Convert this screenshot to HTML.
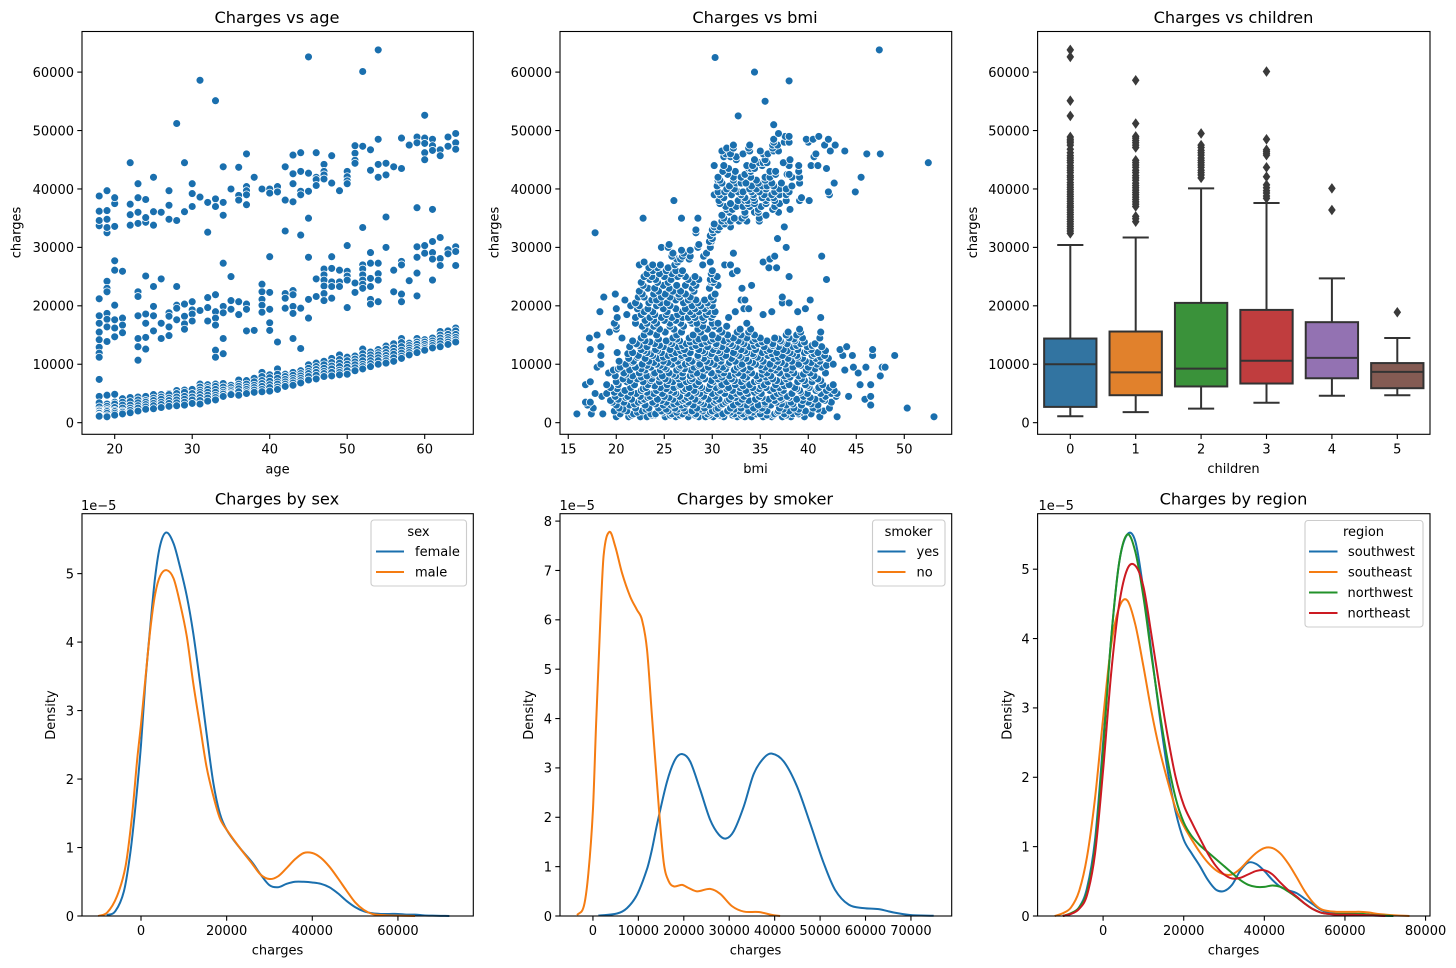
<!DOCTYPE html>
<html lang="en">
<head>
<meta charset="utf-8">
<title>Insurance charges charts</title>
<style>
html,body{margin:0;padding:0;background:#fff;width:1456px;height:968px;overflow:hidden}
svg{display:block;font-family:"DejaVu Sans","Liberation Sans",sans-serif;fill:#000}
text{font-size:13px}
.title{font-size:16.2px;text-anchor:middle}
.xl{text-anchor:middle}
.yl{text-anchor:middle}
</style>
</head>
<body>
<svg id="fig" width="1456" height="968" viewBox="0 0 1456 968" xmlns="http://www.w3.org/2000/svg">
<rect x="0" y="0" width="1456" height="968" fill="#fff"/>
<text class="title" x="277" y="23">Charges vs age</text>
<text class="title" x="755" y="23">Charges vs bmi</text>
<text class="title" x="1233.5" y="23">Charges vs children</text>
<text class="title" x="277" y="504.5">Charges by sex</text>
<text class="title" x="755" y="504.5">Charges by smoker</text>
<text class="title" x="1233.5" y="504.5">Charges by region</text>
<text class="xl" x="277.5" y="473.5">age</text>
<text class="xl" x="755.5" y="473">bmi</text>
<text class="xl" x="1233.5" y="473">children</text>
<text class="xl" x="277.5" y="954.5">charges</text>
<text class="xl" x="755.5" y="954.5">charges</text>
<text class="xl" x="1233.5" y="954.5">charges</text>
<text class="yl" transform="translate(20.5 232.5) rotate(-90)">charges</text>
<text class="yl" transform="translate(498.5 232.5) rotate(-90)">charges</text>
<text class="yl" transform="translate(977 232.5) rotate(-90)">charges</text>
<text class="yl" transform="translate(55 715) rotate(-90)">Density</text>
<text class="yl" transform="translate(533 715) rotate(-90)">Density</text>
<text class="yl" transform="translate(1011.5 715) rotate(-90)">Density</text>
<text x="81" y="510">1e−5</text>
<text x="559.5" y="510">1e−5</text>
<text x="1038.5" y="510">1e−5</text>
<g id="marks"></g>
<g id="frames"></g>
<g id="legends">
  <g>
    <rect x="371" y="520" width="95.5" height="66" rx="3" fill="#fff" fill-opacity=".8" stroke="#ccc" stroke-width="1.1"/>
    <text x="418.5" y="536" text-anchor="middle">sex</text>
    <line x1="376" x2="404" y1="551.5" y2="551.5" stroke="#1a6fae" stroke-width="2"/>
    <text x="415" y="556">female</text>
    <line x1="376" x2="404" y1="572" y2="572" stroke="#f57c12" stroke-width="2"/>
    <text x="415" y="576.5">male</text>
  </g>
  <g>
    <rect x="872.5" y="520" width="72.5" height="66" rx="3" fill="#fff" fill-opacity=".8" stroke="#ccc" stroke-width="1.1"/>
    <text x="908.5" y="536" text-anchor="middle">smoker</text>
    <line x1="877.5" x2="905.5" y1="551.5" y2="551.5" stroke="#1a6fae" stroke-width="2"/>
    <text x="916.5" y="556">yes</text>
    <line x1="877.5" x2="905.5" y1="572" y2="572" stroke="#f57c12" stroke-width="2"/>
    <text x="916.5" y="576.5">no</text>
  </g>
  <g>
    <rect x="1305" y="520.5" width="118" height="106.5" rx="3" fill="#fff" fill-opacity=".8" stroke="#ccc" stroke-width="1.1"/>
    <text x="1363.5" y="536" text-anchor="middle">region</text>
    <line x1="1309" x2="1337.5" y1="551.5" y2="551.5" stroke="#1a6fae" stroke-width="2"/>
    <text x="1348" y="556">southwest</text>
    <line x1="1309" x2="1337.5" y1="572" y2="572" stroke="#f57c12" stroke-width="2"/>
    <text x="1348" y="576.5">southeast</text>
    <line x1="1309" x2="1337.5" y1="592.5" y2="592.5" stroke="#22922a" stroke-width="2"/>
    <text x="1347.5" y="597">northwest</text>
    <line x1="1309" x2="1337.5" y1="613" y2="613" stroke="#cc1a22" stroke-width="2"/>
    <text x="1347.5" y="617.5">northeast</text>
  </g>
</g>
</svg>
<script>
/* ---------- tick values ---------- */
const chargeTicks = [0,10,20,30,40,50,60];
const ageTicks = [20,30,40,50,60];
const bmiTicks = [15,20,25,30,35,40,45,50];
const childTicks = [0,1,2,3,4,5];
const sexXTicks = [0,20,40,60];
const smokerXTicks = [0,10,20,30,40,50,60,70];
const regionXTicks = [0,20,40,60,80];
const sexDensityTicks = [0,1,2,3,4,5];
const smokerDensityTicks = [0,1,2,3,4,5,6,7,8];
const regionDensityTicks = [0,1,2,3,4,5];

/* ---------- age scatter: charges (thousands) listed per age ---------- */
const ageGroups = [18,19,20,21,22,23,24,25,26,27,28,29,30,31,32,33,34,35,36,37,38,39,40,41,42,43,44,45,46,47,48,49,50,51,52,53,54,55,56,57,58,59,60,61,62,63,64];
const chargesByAge = [
[33.7,34.6,36.2,38.8,21.2,18.3,17,15.5,14.2,12.9,11.9,11.2,7.4,4.5,3.4,2.7,2.2,2.0,1.7,1.6,1.3,1.2,1.1],
[32.5,33.4,34.8,36.3,39.7,24.2,23,22.4,18.7,17.7,16.4,13.9,4.7,3.2,2.8,2.4,2.1,1.9,1.6,1.2,1.0],
[33.6,37.5,38.5,27.7,26.1,20.1,17.6,16.2,14.7,4.85,3.5,3.2,2.6,2.1,1.9,1.6,1.3],
[25.9,17.9,16.7,15.4,4.1,3.5,3,2.5,2,1.8,1.5],
[33.8,35.6,37.4,44.5,4.3,3.6,3,2.5,2.1,1.7],
[34.1,36,38.5,40.9,22.4,21.6,18.3,14.4,13,10.7,4.4,3.9,3.4,2.9,2.5,2.0],
[34.3,35.1,38.2,25.1,18.6,17,14.6,12.6,4.5,3.8,3.5,3.1,2.7,2.3],
[33.8,36.1,42,23.3,19.9,18.3,15.7,4.8,4.2,3.8,3.3,2.9,2.4],
[36,24.6,17,14.4,4.8,4.4,4,3.5,3.1,2.6],
[34.8,37.2,39.7,18.8,18.2,16.4,14.9,5.0,4.8,4.2,3.8,3.3,2.8],
[34.6,51.2,23.3,20.1,19.6,17.6,5.5,5,4.4,3.9,3.4,2.9],
[36.1,44.5,20.3,18.2,16.9,16,5.6,5.2,4.5,4,3.5,3],
[37,39.2,40.9,20.7,19.3,18.6,17.4,5.8,5.7,5,4.4,3.9,3.3],
[58.6,38.6,19.2,6.6,6.1,5.6,5.2,4.8,4.3,3.8,3.2],
[37.7,32.6,21.4,19.7,17.4,6.5,6,5.7,5.2,4.7,4.2,3.7],
[55.1,38.3,37,21.9,19,17.9,16.7,12.4,11.2,6.6,6.2,5.7,5.2,4.7,4.3,3.9],
[43.8,37.7,35.5,27.3,19.9,18.8,14.4,11.8,6.7,6.1,5.6,5.2,4.9,4.5],
[40,25,20.9,19.4,6.4,6,5.6,5.3,5,4.8],
[43.7,38.9,38.1,20.7,18.5,7.3,6.6,6.2,5.8,5.3,4.7],
[46,40.4,39.7,39,37.3,20.3,19.4,15.7,7.2,6.6,6.1,5.7,5.3,5],
[42,15.8,7.6,7,6.4,6,5.6,5.2],
[40,23.7,22.4,21.1,20.1,18.9,8.6,7.9,7.2,6.7,6.2,5.7,5.3],
[40,39.3,28.4,22.3,19.4,17.1,15.8,8.2,7.7,7.1,6.5,6,5.4],
[40.4,39.5,13.8,9.2,8.3,7.6,7,6.6,6.1,5.7],
[43.8,38.1,32.8,22.1,21.3,19.6,8.3,7.9,7.4,7,6.6,6.2],
[45.8,42.6,40.9,37.8,22.6,21.9,19.9,18.7,14.4,8.6,8.1,7.6,7.2,6.8,6.4],
[46.2,43,39.6,39,32.1,19.6,12.7,8.9,8.4,8,7.6,7.2,6.8],
[62.6,42.7,39.6,35,28.3,21.1,17.9,9.9,9.3,8.8,8.4,7.9,7.3],
[46.2,42,41.6,40.6,24.6,21.6,10.2,9.6,9.1,8.6,8.1,7.5],
[44.2,43,42.4,41.7,26.3,25.3,24.4,23.4,22.1,20.9,10.5,9.9,9.3,8.8,8.4,7.9],
[45.7,41,28.4,26.4,24.1,23.3,21.3,11,10.3,9.7,9.2,8.6,8],
[39.7,26.1,24.1,23.3,11.6,10.8,10.2,9.6,9,8.6,8.2],
[43,42.1,41.4,40.9,30.3,25.9,25.1,24.4,19.7,11.2,10.6,10,9.5,8.9,8.3],
[47.4,46.1,44.9,44.4,23.9,22.3,11.4,10.9,10.4,9.9,9.4,8.9],
[60.1,47.3,33.4,27,26.3,25.3,24.4,23.7,23,12.6,11.8,11.2,10.6,10,9.6,9.2],
[46.7,43.2,29.1,27.3,24.7,23.3,21.1,20.3,12.1,11.6,11.1,10.6,10.1,9.6],
[63.8,48.5,44.2,42,27.3,25.5,24.4,20.7,12.5,12,11.6,11.1,10.6,10],
[44.4,42.4,35.2,30,13.1,12.6,12,11.5,11,10.6,10.2],
[43.8,26.1,22.4,13.5,12.8,12.2,11.7,11.1,10.5],
[48.7,43.5,27.6,27,22,20.7,14.4,13.7,13,12.4,11.9,11.4,11],
[47.5,24.3,13.6,13.2,12.8,12.4,12,11.6],
[48.9,47.9,36.8,30.1,28.3,25.6,21.7,14.4,13.8,13.4,12.9,12.5,12],
[52.6,48.7,47.8,46.2,45,30.3,29,14.2,13.8,13.4,13,12.7,12.4],
[48.5,47.4,46.6,36.5,31,29.1,28,24.4,14.5,14,13.6,13.2,12.8],
[46.7,45.7,31.7,28.1,26.9,15.6,15,14.5,14,13.5,13],
[48.9,47.3,29.6,28.9,15.7,15.1,14.6,14.2,13.8,13.4],
[49.5,47.9,46.8,30.1,29.3,26.9,16.2,15.7,15.1,14.6,14.2,13.8]
];

/* ---------- bmi scatter: [charges (thousands), bmi values] ---------- */
const bmiRows = [
[1,[20,21.3,22.5,23.2,25.1,26.2,27.5,28.6,29.3,30.1,31.2,32.6,33.4,34.1,35.3,36.2,37.3,38.2,39.6,41.2,43,53.1]],
[1.3,[21.6,24,25.6,28.2,30.8,33,35.7,37.7,32.1,26.6,23.7,29.7,36.4]],
[1.5,[15.9,17.4,18.6,20.4,21.8,23.6,24.1,25.8,26.9,28.3,29.5,30.5,31.1,32.3,33.2,34.6,35,36.5,37.5,38.4,39,40.3]],
[1.8,[22.2,24.9,27.6,29.8,31.9,34.2,36.8,39.3,26.3,33.7,38.9]],
[2,[19.8,21.1,22.7,24.7,25.4,27.2,27.9,29,30,31.6,32.8,33.8,35.7,36.9,38,39.7,41.6]],
[2.3,[20.7,23.1,26.4,28.8,30.4,32.3,35,37.4,39,41,25.2,34.5]],
[2.5,[17.6,20.3,22,23.4,24.4,26.1,27,28.4,29.2,30.6,31.9,33,34.3,35.2,37,38.5,40.5,42.2,50.3]],
[3,[17,20,21.4,23,24.9,25.7,26.8,28,29.7,30.9,32.2,33.6,34.8,36.1,37.7,39.3,41,46.5]],
[3.2,[21.9,24.1,27.3,29.1,31.1,32.9,35.5,37.2,40.3,26,38.4]],
[3.5,[16.8,17.3,19.6,20.8,22.3,23.8,25.2,26.4,27.5,28.8,30.2,31.4,32.7,34,35.5,36.7,38.2,40,42.4]],
[3.8,[22.6,24.7,26.9,28.6,30.4,33.8,36.5,39.4,41.7,19.4,31.6]],
[4,[20.2,21.6,22.9,24.3,25.9,27.1,28.2,29.6,30.7,31.8,33.1,34.5,35.9,37.2,38.8,40.7,41.5,45.9]],
[4.3,[21,23.3,25.5,27.4,29,32.4,35.2,38,40.2,37.1]],
[4.5,[18.5,19.9,21.2,22.5,23.5,25,26.6,27.8,29.1,30.3,32,33.3,34.9,36.4,37.8,39.5,41.8,42.9,44.2,46.5]],
[5,[17.8,19,20.5,22.1,23.9,24.8,26.2,27.4,28.7,30,31.3,32.5,33.7,35.1,36.8,38.3,39.9,41.3,42.4,43]],
[5.2,[21.5,23.2,26,28.3,30.6,32.9,34.4,37.2,39.2,19.8]],
[5.5,[20.9,22.6,24.2,25.6,27,28.1,29.4,30.8,32.1,33.5,34.7,36,37.4,39.1,40.8,41.9,42.7]],
[5.8,[22.8,25.2,27.2,29.6,31.5,34.9,36.4,38.8,41,20.1]],
[6,[19.4,21.5,23.1,24.6,26,27.6,28.9,30.4,31.7,32.9,34.2,35.6,37,38.6,40.1,41.1,42.2]],
[6.3,[24,26.6,28.7,30.9,33.2,35.1,37.5,39.9]],
[6.5,[16.8,19,20.2,21.9,23.3,25.3,26.7,28.3,29.8,31,32.4,33.9,35.4,36.6,38,39.7,41.5,42.6,45.4,46.5]],
[7,[17.3,20,21.1,22.8,24.5,25.9,27.3,28.6,30.1,31.5,33,34.4,35.8,37.2,38.9,40.4]],
[7.2,[21.4,23.6,25.4,27.7,29.9,32.3,34.8,36.7,39.6,41.3]],
[7.5,[20.7,22.2,23.7,25.1,26.5,27.9,29.2,30.6,32,33.4,34.9,36.3,37.7,39.3,41]],
[7.8,[22.6,24.5,26.9,28.8,31,33.6,35.6,38.1,40.4]],
[8,[19.9,21.7,23.2,24.8,26.2,27.7,29,30.3,31.8,33.2,34.6,36.1,37.5,39,40.6,47.5]],
[8.3,[21,23.9,25.9,28,30.9,32.4,35.2,37.9,39.5]],
[8.5,[19.2,20.8,22.4,24,25.5,26.9,28.4,29.9,31.2,32.7,34.1,35.7,37,38.5,40.2,41.8,45.2]],
[9,[19.7,21.4,23,24.6,26.3,27.8,29.3,30.7,32.3,33.7,35.2,36.6,38.2,39.8,43.8]],
[9.2,[20.2,22.6,25.2,27.1,29,31.4,33.2,36.1,37.7,40.7]],
[9.5,[18,20.4,22,23.6,25,26.6,28.1,29.6,31.1,32.6,34,35.5,36.9,38.4,40,41.4,44.7,46,47.7,48]],
[9.8,[23.2,24.6,26.7,28.6,30.5,32.9,35,36.4,39.2,41.9]],
[10,[18.4,21,22.7,24.2,25.8,27.2,28.7,30.2,31.7,33.1,34.5,36,37.6,39,40.9,42.6]],
[10.3,[21.7,23.9,25.4,27.6,29.8,31.8,34.2,37.2,40.3]],
[10.5,[20.3,21.8,23.4,24.9,26.4,27.9,29.4,30.9,32.4,33.8,35.3,36.8,38.3,39.7,41.2]],
[11,[21.3,23,24.4,26,27.5,29.1,30.5,32,33.5,35,36.4,37.9,39.4,40.8,42.1]],
[11.2,[22.2,24.9,26.8,28.5,31.1,33,34.7,36.9,38.9,41.3]],
[11.5,[18.4,22.3,23.8,25.4,26.8,28.5,29.8,31.4,32.8,34.3,35.8,37.3,38.8,40.4,41.7,43.6,44.6,46.7,49]],
[11.8,[21.2,23.6,25.8,27.2,29.9,32.4,34.2,36.2,38.4,40.6]],
[12,[20.1,21.7,23.2,24.7,26.2,27.7,29.2,30.8,32.2,33.6,35.2,36.7,38.1,39.6,41]],
[12.3,[22.9,24.3,26.7,29,30.6,33.4,35.7,37.8,39.9,41.8]],
[12.5,[17.3,22.6,24.1,25.6,27.1,28.6,30.1,31.5,33,34.5,36,37.4,38.9,40.3,43.3,46.7]],
[13,[18.4,21.4,23.2,24.9,26.4,27.9,29.5,31,32.5,33.9,35.4,36.9,38.4,39.9,41.4,44]],
[13.2,[22.4,24.5,26.9,28.3,30.4,32.1,34.4,36.3,38.8,40.4]],
[13.5,[22.1,24,25.8,27.3,28.9,30.4,31.9,33.3,34.8,36.3,37.8,39.2,40.7]],
[13.8,[23.5,25.5,27.7,29.4,31.5,33,35.2,37.2,39.6]],
[14,[21.7,23,25.2,26.6,28.3,29.8,31.2,32.7,34.2,35.7,37.1,38.6]],
[14.3,[24.4,26.3,28.6,30.1,31.8,34.5,36.9,38.5]],
[14.5,[17.2,20.6,22.6,25.9,27.6,29.2,30.6,32.2,33.6,35,36.5,38,39.4,41.2]],
[15,[18,22.9,24.2,26.3,28,30,31.6,33,34.4,37.7,38.8]],
[15.5,[19.3,23.5,25.1,26.8,28.8,31,32.6,33.8,37.9,39.2,41.3]],
[16,[20,23,24.5,26,28.5,29.5,30.7,32.9,34,39.1]],
[16.5,[20,22.7,23.9,25.6,27,29,30.2,31.5]],
[17,[19.8,22,23.2,24.2,25.6,26.7,27.9,28.4,30,30.6,33.6]],
[17.5,[23,23.9,25,26.2,27.7,29.1]],
[18,[20.1,22,23.5,24.7,25.8,26.9,27.5,28.2,29,29.9,31.7,41.3]],
[18.5,[21.1,22.6,24,25.2,26.4,28,29.4,30.1,35.3]],
[19,[18.3,22.9,23.8,25.3,26.9,27.7,28.6,29.6,30.3,32.4,38.9,36.2]],
[19.5,[20,22.2,23.3,24.9,26.2,27.2,28.2,29.2,33.3,33.8,39.7]],
[20,[21.5,22.4,24.2,25.6,27.9,28.8,29.7,30]],
[20.5,[22,23.4,24.6,25.3,27,28.5,29.5,37.3,38]],
[21,[20.9,23.7,24.2,26.2,27.5,28.3,29.2,30.1,33,33.4,40.2]],
[21.5,[18.7,22.3,22.9,24.7,25.6,26.6,27.7,29.9,37.3]],
[22,[22.7,23.9,25.1,26.5,27.2,30.3,19.9]],
[22.5,[22.4,24.4,25.9,26.7,28.1]],
[23,[23.3,24,25.5,27.9,29.7,33.1]],
[23.5,[22.8,24.9,26.3,27.2,28.3,30.6,34.1]],
[24,[22.6,24.3,25.4,28,29.9,30.1]],
[24.5,[23.5,24.1,25.7,27.5,28.6,29.8,30.2,41.9]],
[25,[22.9,23.7,25,26.4,27.2,28.2,30.5,38]],
[25.5,[23.2,24.5,25.8,26.7,29.9,32.1]],
[26,[23.8,25.2,26.2,26.9,30,32.6]],
[26.5,[23.4,24.3,25.4,35.9,36.7]],
[27,[22.4,23.8,24.6,26.1,29,31.3,31.9]],
[27.5,[22.9,26.4,29.8,35.3]],
[28,[26.3,26.7,27.6,36]],
[28.5,[25.8,26.9,27.7,29.1,36.5,41.4]],
[29,[25.9,27,29.4,32.2]],
[29.5,[26.8,27.7]],
[30,[24.7,25.4,28.5,29.8,37.7]],
[30.5,[25.5,28.6]],
[31,[29.9,29.7]],
[31.5,[30,36.8]],
[32,[29.8]],
[32.5,[17.8,30.1,28.3]],
[33,[28.3,30,30.6]],
[33.5,[30.2,30.8,31.9,37.5]],
[34,[30.2,31.3]],
[34.5,[31,31.6,32.8,33.6,34.9,31.9]],
[35,[22.8,26.8,28.5,31.2,32.3,33.1,34.9]],
[35.5,[31,33.4,35.6]],
[36,[31.8,33.4,34.4,34.8,36.9]],
[36.5,[31.5,32.1,34.8,36.3,38.1]],
[37,[31.4,32.5,33.2,33.9,35.1,36.5]],
[37.5,[30.8,31.9,33.7,34.4,35.6,37]],
[38,[26,30.7,32.7,33.4,33.7,34.4,35.6,36.5,37.7,39.1,40.1]],
[38.5,[31.2,33.4,34.3,35.2,35.9,36.4,39.3]],
[39,[30.2,30.8,32,33,34.3,35.4,36.2,37,37.7,42.2]],
[39.5,[30.6,31.3,32.7,33.2,34.1,34.9,36.5,38,42.1,44.9]],
[40,[31.5,32.3,33.9,34.6,35.6,37,37.7]],
[40.5,[30.5,31.8,34.1,35.2,35.7,36.4,38.3]],
[41,[31,32.5,33,33.5,34.8,36.2,37.2,39.1,42.7]],
[41.5,[30.6,30.8,32.2,34.6,35.5]],
[42,[30.6,32.2,33,34,35.5,36,38.3,39.1,45.5]],
[42.5,[31.6,33.4,36.6,37.8,38]],
[43,[31.1,32.4,34,36,36.6,39]],
[43.5,[31.7,33.8,34,34.4,41.9]],
[44,[30.2,31.2,33.6,34.2,35.2,38,39,40.3,41]],
[44.5,[34.9,35.3,35.7,37.4,52.5]],
[45,[32.5,34.4,35.5,38.1]],
[45.5,[31.2,31.9,32.5,40.6]],
[46,[31.4,31.9,33.2,35.3,35.8,40.8,47.5,46.1]],
[46.5,[31,33.9,35,36.4,36.9,42.3,43.8]],
[47,[31.5,32.2,33.8,36.3]],
[47.5,[32.2,33.9,36.3,36.8,41.7,42.8]],
[48,[36.4,37.5,38,40]],
[48.5,[36.4,39.8,40.5,42.1]],
[49,[37.6,38,41.1]],
[49.5,[36.9]],
[51,[36.4]],
[52.5,[32.7]],
[55,[35.5]],
[58.5,[38]],
[60,[34.4]],
[62.5,[30.3]],
[63.8,[47.4]]
];

/* ---------- box plot: charges (thousands) per number of children ---------- */
const boxLow = [1.1,1.8,2.4,3.4,4.6,4.7];
const boxQ1 = [2.7,4.7,6.2,6.7,7.6,5.9];
const boxMedian = [10,8.6,9.25,10.6,11.1,8.7];
const boxQ3 = [14.4,15.6,20.5,19.3,17.2,10.2];
const boxHigh = [30.4,31.7,40.1,37.6,24.7,14.5];
const boxColors = ["#3274a1","#e1812c","#3a923a","#c03d3e","#9372b2","#845b53"];
const boxFliers = [
[63.8,62.6,55.1,52.5,48.9,48.5,48.2,47.9,47.5,46.8,46.2,45.7,45.3,44.9,44.5,44,43.6,43.2,42.8,42.3,42,41.6,41.1,40.7,40.3,39.9,39.5,39.1,38.7,38.3,37.9,37.5,37.1,36.8,36.4,36,35.6,35.2,34.8,34.4,34,33.6,33.2,32.8,32.4],
[58.6,51.2,49,48.7,48.3,47.9,47.5,47.1,44.9,44.5,44.1,43.7,43.2,42.8,42.3,41.9,41.5,41,40.6,40.2,39.8,39.4,39,38.6,38.2,37.8,37.4,37,35.3,34.9,34.4],
[49.5,47.5,47.1,46.6,46.2,45.8,45.3,44.9,44.5,44.1,43.7,43.2,42.8,42.4,41.9],
[60.1,48.5,46.7,46.4,46.1,45.8,43.7,42.1,40.7,40.2,39.7,39.3,38.8,38.4],
[40.1,36.4],
[18.9]
];

/* ---------- density curves: charges (thousands) and density (1e-5) ---------- */
const femaleX = [-8,-6,-4,-2.5,-1.3,0,1,2.2,3.3,4.5,5.9,7.6,9.1,10.7,12.2,13.8,15.3,16.9,18.4,20,23,26,28,30,32,34,36,38,40,42,44,46,48,50,52,54,56,58,60,62,64,66,68,70,72];
const femaleY = [0.01,0.07,0.36,0.92,1.6,2.5,3.4,4.25,4.95,5.42,5.6,5.44,5.1,4.67,4.13,3.4,2.67,1.94,1.5,1.26,1.0,0.78,0.6,0.45,0.42,0.47,0.5,0.5,0.49,0.47,0.42,0.33,0.22,0.13,0.07,0.04,0.03,0.03,0.03,0.02,0.02,0.01,0.005,0.002,0];
const maleX = [-10,-7.9,-5.6,-3.6,-2.1,-0.9,0,1,2.2,3.3,4.5,6,7.6,9.1,10.7,12.2,13.8,15.3,16.9,18.4,20,23,26,28,30,32,34,36,38,40,42,44,46,48,50,52,54,56,60,64];
const maleY = [0,0.05,0.29,0.73,1.46,2.28,2.8,3.45,4.2,4.7,4.97,5.05,4.93,4.57,4.08,3.4,2.77,2.18,1.75,1.43,1.26,1.0,0.76,0.6,0.54,0.58,0.7,0.83,0.92,0.92,0.85,0.72,0.55,0.37,0.2,0.09,0.03,0.015,0.005,0];
const yesX = [1.2,5.3,7.5,9.7,11.9,13,14.1,16.3,18.1,19.7,21.4,23.6,25.8,27.7,29.3,31,33.2,35.4,37.6,39.4,42,44.9,47.8,50.8,53.3,56.3,59.6,62.9,66.2,69.8,75];
const yesY = [0.01,0.05,0.16,0.43,0.95,1.35,1.85,2.72,3.17,3.28,3.13,2.56,1.95,1.65,1.57,1.72,2.22,2.88,3.2,3.29,3.13,2.63,1.88,1.07,0.53,0.23,0.16,0.14,0.07,0.02,0.005];
const noX = [-3.5,-2,-1,0,0.7,1.6,2.35,3.6,4.9,6.4,8.2,9.7,10.8,11.9,13,14.5,15.6,16.7,17.8,19.6,21,22.9,25.8,28,30.6,33.2,36.5,39.8,41.2];
const noY = [0.02,0.2,0.87,2.15,3.9,5.93,7.3,7.78,7.49,6.95,6.47,6.2,6.0,5.4,4.04,2.2,1.07,0.7,0.6,0.63,0.57,0.5,0.55,0.45,0.2,0.09,0.08,0.015,0];
const southwestX = [-10,-8,-6,-4,-2,0,2,4,6,8,10,12,14,16,18,20,22,24,26,28,30,32,34,36,38,40,42,44,46,48,50,52,54,56,58,60,62,64,68,72];
const southwestY = [0,0.03,0.12,0.4,1.1,2.5,4.0,5.1,5.5,5.4,4.7,3.8,2.9,2.1,1.5,1.1,0.9,0.72,0.52,0.38,0.36,0.45,0.65,0.77,0.75,0.65,0.52,0.42,0.37,0.33,0.25,0.17,0.09,0.05,0.03,0.02,0.02,0.015,0.005,0];
const southeastX = [-12,-10,-8,-6,-4,-2,0,2,4,6,8,10,12,14,16,18,20,22,24,26,28,30,32,34,36,38,40,42,44,46,48,50,52,54,56,58,60,62,64,66,68,70,72,76];
const southeastY = [0,0.04,0.12,0.35,0.85,1.7,2.85,3.9,4.45,4.55,4.2,3.6,2.95,2.4,1.95,1.55,1.3,1.1,0.92,0.77,0.66,0.6,0.6,0.68,0.8,0.91,0.98,0.98,0.9,0.75,0.56,0.36,0.2,0.1,0.07,0.06,0.06,0.06,0.06,0.05,0.03,0.02,0.01,0];
const northwestX = [-10,-8,-6,-4,-2,0,2,4,6,8,10,12,14,16,18,20,22,24,26,28,30,32,34,36,38,40,42,44,46,48,50,52,54,56,58,60,62,64,66,68,72];
const northwestY = [0,0.04,0.12,0.35,1.0,2.4,4.0,5.1,5.5,5.25,4.6,3.75,2.95,2.25,1.7,1.35,1.15,1.02,0.92,0.82,0.72,0.62,0.52,0.45,0.42,0.42,0.44,0.42,0.35,0.27,0.18,0.1,0.05,0.03,0.03,0.03,0.03,0.03,0.02,0.01,0];
const northeastX = [-10,-8,-6,-4,-2,0,2,4,6,8,10,12,14,16,18,20,22,24,26,28,30,32,34,36,38,40,42,44,46,48,50,52,54,56,58,60,62,66,70];
const northeastY = [0,0.03,0.1,0.3,0.9,2.1,3.5,4.5,5.0,5.05,4.75,4.05,3.3,2.6,2.0,1.6,1.35,1.12,0.9,0.72,0.6,0.54,0.55,0.6,0.65,0.66,0.6,0.48,0.37,0.28,0.18,0.1,0.05,0.03,0.02,0.02,0.02,0.01,0];

/* ---------- helpers ---------- */
const NS = "http://www.w3.org/2000/svg";
const marksLayer = document.getElementById("marks");
const framesLayer = document.getElementById("frames");
const BLUE = "#1a6fae", ORANGE = "#f57c12", GREEN = "#22922a", RED = "#cc1a22", EDGE = "#333333";

function make(tag, attrs, parent) {
  const el = document.createElementNS(NS, tag);
  for (const k in attrs) el.setAttribute(k, attrs[k]);
  (parent || marksLayer).appendChild(el);
  return el;
}
function linear(d0, d1, r0, r1) {
  return function (v) { return r0 + (v - d0) / (d1 - d0) * (r1 - r0); };
}
function drawAxes(box, scaleX, scaleY, xTicks, yTicks, xLabel, yLabel) {
  const frame = make("rect", {x: box.l, y: box.t, width: box.r - box.l, height: box.b - box.t, fill: "none", stroke: "#000", "stroke-width": 1.1}, framesLayer);
  
  
  xTicks.forEach(function (v) {
    const x = scaleX(v);
    const tick = make("line", {x1: x, x2: x, y1: box.b, y2: box.b + 4.7, stroke: "#000", "stroke-width": 1.1}, framesLayer);
    
    
    const label = make("text", {x: x, y: box.b + 19, "text-anchor": "middle"}, framesLayer);
    
    
    label.textContent = xLabel(v);
  });
  yTicks.forEach(function (v) {
    const y = scaleY(v);
    const tick = make("line", {x1: box.l - 4.7, x2: box.l, y1: y, y2: y, stroke: "#000", "stroke-width": 1.1}, framesLayer);
    
    
    const label = make("text", {x: box.l - 8, y: y + 4.8, "text-anchor": "end"}, framesLayer);
    
    
    label.textContent = yLabel(v);
  });
}
function dot(x, y) {
  const c = make("circle", {cx: x.toFixed(1), cy: y.toFixed(1), r: 3.95, fill: BLUE, stroke: "#fff", "stroke-width": 0.8});
  
  
}
function curve(xs, ys, scaleX, scaleY, color, name) {
  const n = xs.length, px = xs.map(scaleX), py = ys.map(scaleY), m = [];
  for (let i = 0; i < n; i++) {
    const a = Math.max(0, i - 1), b = Math.min(n - 1, i + 1);
    m.push((py[b] - py[a]) / (px[b] - px[a]));
  }
  let d = "M" + px[0].toFixed(2) + " " + py[0].toFixed(2);
  for (let i = 0; i < n - 1; i++) {
    const h = (px[i + 1] - px[i]) / 3;
    d += "C" + (px[i] + h).toFixed(2) + " " + (py[i] + m[i] * h).toFixed(2) + " " +
         (px[i + 1] - h).toFixed(2) + " " + (py[i + 1] - m[i + 1] * h).toFixed(2) + " " +
         px[i + 1].toFixed(2) + " " + py[i + 1].toFixed(2);
  }
  const p = make("path", {d: d, fill: "none", stroke: color, "stroke-width": 2, "stroke-linejoin": "round"});
  
  
}
const asDollars = function (v) { return String(v * 1000); };
const asIs = function (v) { return String(v); };

/* ---------- panel geometry and domains ---------- */
const topRow = {t: 31.5, b: 434.3};
const botRow = {t: 513.7, b: 916};
const col1 = {l: 82, r: 473.3}, col2 = {l: 560, r: 951.7}, col3 = {l: 1037.6, r: 1430};
function box(col, row) { return {l: col.l, r: col.r, t: row.t, b: row.b}; }
const topY = linear(-1.99, 66.95, topRow.b, topRow.t);

/* panel 1: charges vs age */
(function () {
  const b = box(col1, topRow), sx = linear(15.78, 66.27, b.l, b.r);
  ageGroups.forEach(function (age, i) {
    chargesByAge[i].forEach(function (c) { dot(sx(age), topY(c)); });
  });
  drawAxes(b, sx, topY, ageTicks, chargeTicks, asIs, asDollars);
})();

/* panel 2: charges vs bmi */
(function () {
  const b = box(col2, topRow), sx = linear(14.14, 54.94, b.l, b.r);
  bmiRows.forEach(function (row) {
    row[1].forEach(function (bmi) { dot(sx(bmi), topY(row[0])); });
  });
  drawAxes(b, sx, topY, bmiTicks, chargeTicks, asIs, asDollars);
})();

/* panel 3: charges vs children */
(function () {
  const b = box(col3, topRow), sx = linear(-0.5, 5.5, b.l, b.r);
  const halfBox = 0.4, halfCap = 0.2;
  childTicks.forEach(function (k) {
    const cx = sx(k);
    const w1 = make("line", {x1: cx, x2: cx, y1: topY(boxQ1[k]), y2: topY(boxLow[k]), stroke: EDGE, "stroke-width": 2});
    
    
    const w2 = make("line", {x1: cx, x2: cx, y1: topY(boxQ3[k]), y2: topY(boxHigh[k]), stroke: EDGE, "stroke-width": 2});
    
    
    const c1 = make("line", {x1: sx(k - halfCap), x2: sx(k + halfCap), y1: topY(boxLow[k]), y2: topY(boxLow[k]), stroke: EDGE, "stroke-width": 2});
    
    
    const c2 = make("line", {x1: sx(k - halfCap), x2: sx(k + halfCap), y1: topY(boxHigh[k]), y2: topY(boxHigh[k]), stroke: EDGE, "stroke-width": 2});
    
    
    const r = make("rect", {x: sx(k - halfBox), y: topY(boxQ3[k]), width: sx(k + halfBox) - sx(k - halfBox), height: topY(boxQ1[k]) - topY(boxQ3[k]), fill: boxColors[k], stroke: EDGE, "stroke-width": 2});
    
    
    const med = make("line", {x1: sx(k - halfBox), x2: sx(k + halfBox), y1: topY(boxMedian[k]), y2: topY(boxMedian[k]), stroke: EDGE, "stroke-width": 2});
    
    
    boxFliers[k].forEach(function (v) {
      const y = topY(v);
      const f = make("polygon", {points: [cx - 3.8, y, cx, y - 5.3, cx + 3.8, y, cx, y + 5.3].join(" "), fill: "#3a3a3a"});
      
      
    });
  });
  drawAxes(b, sx, topY, childTicks, chargeTicks, asIs, asDollars);
})();

/* panel 4: charges by sex */
(function () {
  const b = box(col1, botRow), sx = linear(-13.78, 77.6, b.l, b.r), sy = linear(0, 5.875, b.b, b.t);
  curve(femaleX, femaleY, sx, sy, BLUE, 'kde-line-female');
  curve(maleX, maleY, sx, sy, ORANGE, 'kde-line-male');
  drawAxes(b, sx, sy, sexXTicks, sexDensityTicks, asDollars, asIs);
})();

/* panel 5: charges by smoker */
(function () {
  const b = box(col2, botRow), sx = linear(-7.25, 78.97, b.l, b.r), sy = linear(0, 8.15, b.b, b.t);
  curve(yesX, yesY, sx, sy, BLUE, 'kde-line-yes');
  curve(noX, noY, sx, sy, ORANGE, 'kde-line-no');
  drawAxes(b, sx, sy, smokerXTicks, smokerDensityTicks, asDollars, asIs);
})();

/* panel 6: charges by region */
(function () {
  const b = box(col3, botRow), sx = linear(-16.25, 81.1, b.l, b.r), sy = linear(0, 5.8, b.b, b.t);
  curve(southwestX, southwestY, sx, sy, BLUE, 'kde-line-southwest');
  curve(southeastX, southeastY, sx, sy, ORANGE, 'kde-line-southeast');
  curve(northwestX, northwestY, sx, sy, GREEN, 'kde-line-northwest');
  curve(northeastX, northeastY, sx, sy, RED, 'kde-line-northeast');
  drawAxes(b, sx, sy, regionXTicks, regionDensityTicks, asDollars, asIs);
})();
</script>
</body>
</html>
